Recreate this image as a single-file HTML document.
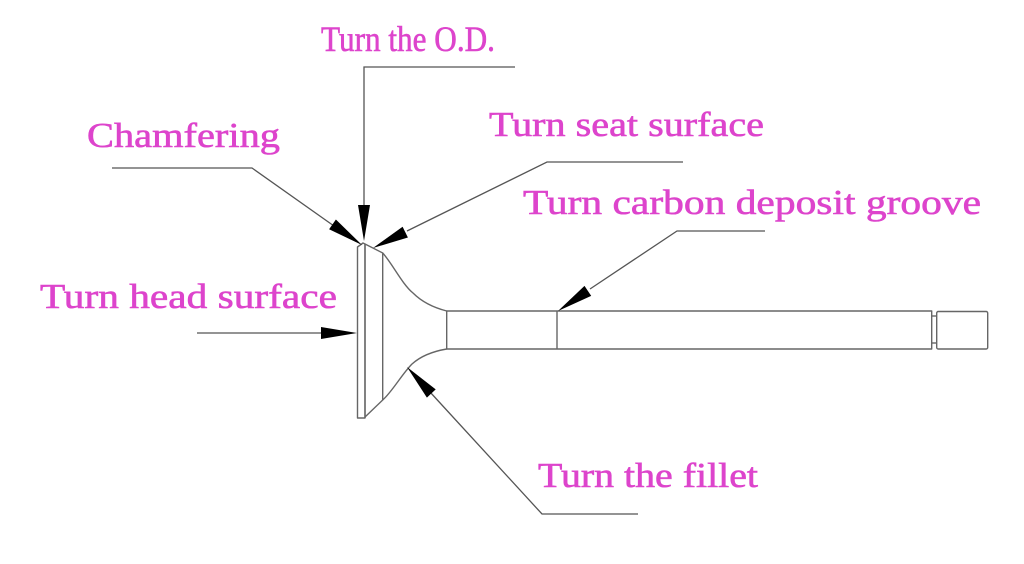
<!DOCTYPE html>
<html>
<head>
<meta charset="utf-8">
<style>
html,body{margin:0;padding:0;background:#fff;}
svg{display:block;}
text{font-family:"Liberation Serif",serif;font-size:35px;fill:#dd44cc;stroke:#dd44cc;stroke-width:0.6px;}
</style>
</head>
<body>
<svg width="1024" height="564" viewBox="0 0 1024 564" xmlns="http://www.w3.org/2000/svg">
<rect width="1024" height="564" fill="#fff"/>

<!-- Labels -->
<text x="321" y="51" textLength="174" lengthAdjust="spacingAndGlyphs" style="font-size:36px">Turn the O.D.</text>
<text x="87" y="147" textLength="193" lengthAdjust="spacingAndGlyphs">Chamfering</text>
<text x="489" y="136" textLength="275" lengthAdjust="spacingAndGlyphs">Turn seat surface</text>
<text x="523" y="214" textLength="458" lengthAdjust="spacingAndGlyphs">Turn carbon deposit groove</text>
<text x="40" y="308" textLength="297" lengthAdjust="spacingAndGlyphs">Turn head surface</text>
<text x="538" y="487" textLength="220" lengthAdjust="spacingAndGlyphs">Turn the fillet</text>

<!-- Valve body -->
<g fill="none" stroke="#666" stroke-width="1.4" stroke-linejoin="round">
  <path d="M365,418 L357.5,418 L357.5,247 L363,243 L365,244 Z"/>
  <line x1="365" y1="244" x2="365" y2="418"/>
  <path d="M365,244 L382.7,253 L382.7,400 L365,417"/>
  <path d="M382.7,253 C392,263 402,284 413,293 C422,302 435,308 446.7,311"/>
  <path d="M446.7,349 C435,351 422,355 412,364 C402,374 392,392 382.7,400"/>
  <rect x="446.7" y="311" width="485" height="38"/>
  <line x1="557" y1="311" x2="557" y2="349"/>
  <line x1="931.7" y1="316" x2="936.7" y2="316"/>
  <line x1="931.7" y1="343" x2="936.7" y2="343"/>
  <rect x="936.7" y="311.5" width="51" height="37.5" rx="1.5"/>
</g>

<!-- Leader lines -->
<g fill="none" stroke="#555" stroke-width="1.3">
  <polyline points="515,67 364,67 364,206"/>
  <polyline points="112,168 252,168 334,226"/>
  <polyline points="683,162 547,162 407,231"/>
  <polyline points="765,231 677,231 590,289"/>
  <line x1="197" y1="333" x2="322" y2="333"/>
  <polyline points="638,514 542,514 430,392"/>
</g>

<!-- Arrowheads -->
<g fill="#000">
  <polygon points="364,241 358,205 370,205"/>
  <polygon points="362,245 329.1,229.3 335.9,219.5"/>
  <polygon points="373,248 407.9,237.5 402.6,226.7"/>
  <polygon points="558,311 591.2,295.9 584.5,285.9"/>
  <polygon points="357,333 321,327 321,339"/>
  <polygon points="407,367 435.7,389.4 426.9,397.6"/>
</g>
</svg>
</body>
</html>
